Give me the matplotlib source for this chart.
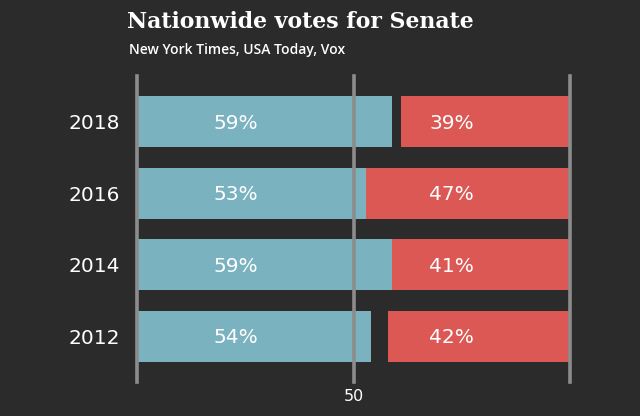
import matplotlib
matplotlib.use("Agg")
import matplotlib.pyplot as plt

years = ["2018", "2016", "2014", "2012"]
blue_share = [59, 53, 59, 54]
red_share = [39, 47, 41, 42]
tick_value = [50]

BG, BLUE, RED, LINE = "#2b2b2b", "#7ab2c0", "#dc5854", "#8c8c8c"
SANS = ["DejaVu Sans"]

fig = plt.figure(figsize=(6.4, 4.16), dpi=100, facecolor=BG)
ax = fig.add_axes([137 / 640, 1 - 382 / 416, (570 - 137) / 640, (382 - 76) / 416])
ax.set_facecolor(BG)

ypos = list(range(len(years)))
ax.barh(ypos, blue_share, left=0, height=0.71, color=BLUE, zorder=2)
red_left = [100 - r for r in red_share]
ax.barh(ypos, red_share, left=red_left, height=0.71, color=RED, zorder=2)

# labels sit at fixed spots in the original, not bar centres
for y, b, r in zip(ypos, blue_share, red_share):
    ax.text(22.8, y + 0.02, f"{b}%", ha="center", va="center", color="white",
            fontsize=14.5, family=SANS, zorder=4)
    ax.text(72.7, y + 0.02, f"{r}%", ha="center", va="center", color="white",
            fontsize=14.5, family=SANS, zorder=4)

for xv in [0, tick_value[0], 100]:
    ax.axvline(xv, color=LINE, lw=2.6, zorder=3, clip_on=False)

ax.set_xlim(0, 100)
ax.set_ylim(len(years) - 1 + 0.64, -0.64)
ax.set_yticks(ypos)
ax.set_yticklabels(years, fontsize=14.5, color="white", family=SANS)
ax.tick_params(axis="y", length=0, pad=12)
ax.set_xticks(tick_value)
ax.set_xticklabels([str(v) for v in tick_value], fontsize=11.5, color="white",
                   family=SANS)
ax.tick_params(axis="x", length=0, pad=5)
for s in ax.spines.values():
    s.set_visible(False)

fig.text(127 / 640, 1 - 22 / 416, "Nationwide votes for Senate", ha="left", va="center",
         color="white", fontsize=15.8, fontweight="bold", family="DejaVu Serif")
fig.text(129 / 640, 1 - 50 / 416, "New York Times, USA Today, Vox", ha="left", va="center",
         color="white", fontsize=10, family=["Open Sans", "DejaVu Sans"], fontweight="semibold")

fig.savefig("out.png", dpi=100, facecolor=BG)
